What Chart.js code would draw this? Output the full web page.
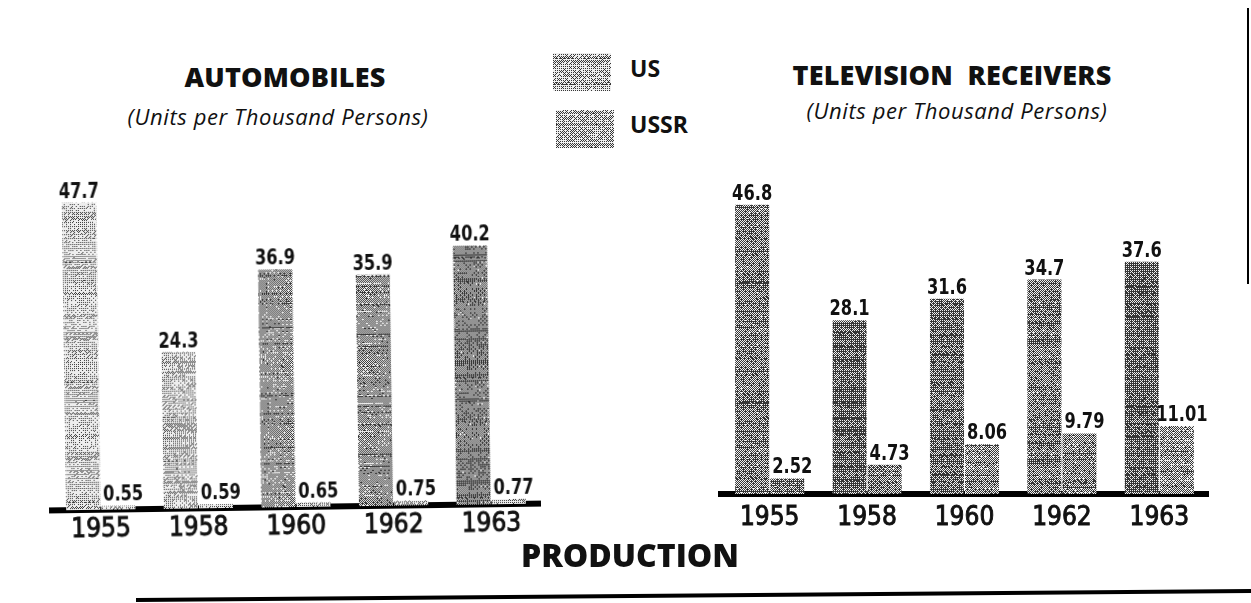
<!DOCTYPE html>
<html>
<head>
<meta charset="utf-8">
<title>Production</title>
<script src="https://cdn.jsdelivr.net/npm/chart.js@4.4.1/dist/chart.umd.min.js"></script>
<style>
    body { margin: 0; background: #fff; width: 1251px; height: 603px; overflow: hidden; position: relative; color: #111; font-family: "Open Sans", "DejaVu Sans", sans-serif; }
    canvas { position: absolute; top: 0; }
    #autoChart { left: 0; transform: rotate(-0.8deg); transform-origin: 296px 507px; }
    #tvChart { left: 640px; }
    .head { position: absolute; white-space: nowrap; line-height: 1; transform: translateX(-50%); }
    .big { font-weight: 800; font-size: 27px; letter-spacing: 0.2px; }
    .sub { font-style: italic; font-size: 22px; letter-spacing: 0.6px; }
    .swatch { position: absolute; width: 58px; height: 38px; }
    .key { position: absolute; font-weight: 700; font-size: 23px; line-height: 1; }
    .rule { position: absolute; background: #000; }
</style>
</head>
<body>
<div class="head big" style="left:285px; top:63px;">AUTOMOBILES</div>
<div class="head sub" style="left:278px; top:105px;">(Units per Thousand Persons)</div>
<div class="head big" style="left:952px; top:61px;">TELEVISION&nbsp; RECEIVERS</div>
<div class="head sub" style="left:957px; top:99px;">(Units per Thousand Persons)</div>

<div class="swatch" id="swUS" style="left:553px; top:53px;"></div>
<div class="key" id="keyUS" style="left:630px; top:57px;"></div>
<div class="swatch" id="swUSSR" style="left:556px; top:110px;"></div>
<div class="key" id="keyUSSR" style="left:630px; top:113px;"></div>

<canvas id="autoChart" width="620" height="603"></canvas>
<canvas id="tvChart" width="611" height="603"></canvas>

<div class="head big" style="left:630px; top:539px; font-size:32px; letter-spacing:0;">PRODUCTION</div>
<div class="rule" style="left:136px; top:598px; width:1130px; height:4px; transform: rotate(-0.46deg); transform-origin: 0 2px;"></div>
<div class="rule" style="left:1247px; top:8px; width:2px; height:276px;"></div>

<script>
const years = ['1955', '1958', '1960', '1962', '1963'];
const seriesNames = ['US', 'USSR'];
const autoUS = [47.7, 24.3, 36.9, 35.9, 40.2];
const autoUSSR = [0.55, 0.59, 0.65, 0.75, 0.77];
const tvUS = [46.8, 28.1, 31.6, 34.7, 37.6];
const tvUSSR = [2.52, 4.73, 8.06, 9.79, 11.01];

// grey level of the halftone screen used for each bar
const autoShadeUS = [205, 195, 140, 135, 110];
const autoShadeUSSR = [195, 195, 185, 170, 175];
const tvShadeUS = [110, 85, 100, 108, 82];
const tvShadeUSSR = [120, 115, 130, 120, 135];

const narrow = '"Liberation Sans Narrow", "DejaVu Sans Condensed", "Roboto", sans-serif';
const bayer = [0, 8, 2, 10, 12, 4, 14, 6, 3, 11, 1, 9, 15, 7, 13, 5];

function hash(a, b) {
    const n = Math.sin(a * 127.1 + b * 311.7) * 43758.5453;
    return n - Math.floor(n);
}

// dot-screen texture with horizontal streaks, as a small tile
function grain(shade, seed) {
    const w = 40, h = 120;
    const c = document.createElement('canvas');
    c.width = w;
    c.height = h;
    const g = c.getContext('2d');
    const img = g.createImageData(w, h);
    for (let y = 0; y < h; y++) {
        const row = (hash(y, seed) - 0.5) * 40 + (hash(y + 7, seed * 3) > 0.88 ? -60 : 0);
        for (let x = 0; x < w; x++) {
            const v = shade + row + (hash(x + seed * 17, y) - 0.5) * 70;
            const t = (bayer[(y % 4) * 4 + (x % 4)] + 0.5) * 16;
            const out = v > t ? 238 : 55;
            const i = (y * w + x) * 4;
            img.data[i] = img.data[i + 1] = img.data[i + 2] = out;
            img.data[i + 3] = 255;
        }
    }
    g.putImageData(img, 0, 0);
    return c;
}

const patternCtx = document.createElement('canvas').getContext('2d');
const patterns = (shades, base) => shades.map((s, i) => patternCtx.createPattern(grain(s, base + i), 'repeat'));

document.getElementById('swUS').style.backgroundImage = `url(${grain(180, 41).toDataURL()})`;
document.getElementById('swUSSR').style.backgroundImage = `url(${grain(165, 43).toDataURL()})`;
document.getElementById('keyUS').textContent = seriesNames[0];
document.getElementById('keyUSSR').textContent = seriesNames[1];

// figures printed above every bar, in a narrow bold face
const valueLabels = {
    id: 'valueLabels',
    afterDatasetsDraw(chart) {
        const ctx = chart.ctx;
        chart.data.datasets.forEach((ds, di) => {
            chart.getDatasetMeta(di).data.forEach((bar, i) => {
                ctx.save();
                ctx.fillStyle = '#111';
                ctx.font = 'bold 21px ' + narrow;
                ctx.textAlign = 'center';
                ctx.textBaseline = 'alphabetic';
                ctx.translate(bar.x + (di ? 5 : 0), bar.y - 5);
                ctx.scale(0.86, 1);
                ctx.fillText(String(ds.data[i]), 0, 0);
                ctx.restore();
            });
        });
    }
};

function makeChart(id, us, ussr, shadeUS, shadeUSSR, padding, tickPad, seed) {
    return new Chart(document.getElementById(id), {
        type: 'bar',
        data: {
            labels: years,
            datasets: [
                { label: seriesNames[0], data: us, backgroundColor: patterns(shadeUS, seed) },
                { label: seriesNames[1], data: ussr, backgroundColor: patterns(shadeUSSR, seed + 10) }
            ]
        },
        options: {
            responsive: false,
            animation: false,
            layout: { padding: padding },
            datasets: { bar: { categoryPercentage: 0.72, barPercentage: 0.97, borderWidth: 0 } },
            plugins: { legend: { display: false }, tooltip: { enabled: false } },
            scales: {
                x: {
                    grid: { display: false, drawTicks: false },
                    border: { color: '#000', width: 6 },
                    ticks: {
                        color: '#111', padding: tickPad,
                        textStrokeColor: '#111', textStrokeWidth: 0.9,
                        font: { family: narrow, size: 26 }
                    },
                    afterFit: scale => { scale.height = 40; }
                },
                y: { display: false, min: 0, max: 50 }
            }
        },
        plugins: [valueLabels]
    });
}

makeChart('autoChart', autoUS, autoUSSR, autoShadeUS, autoShadeUSSR, { left: 52, right: 80, top: 185, bottom: 56 }, 5, 1);
makeChart('tvChart', tvUS, tvUSSR, tvShadeUS, tvShadeUSSR, { left: 81, right: 43, top: 185, bottom: 69 }, 9, 21);
</script>
</body>
</html>
